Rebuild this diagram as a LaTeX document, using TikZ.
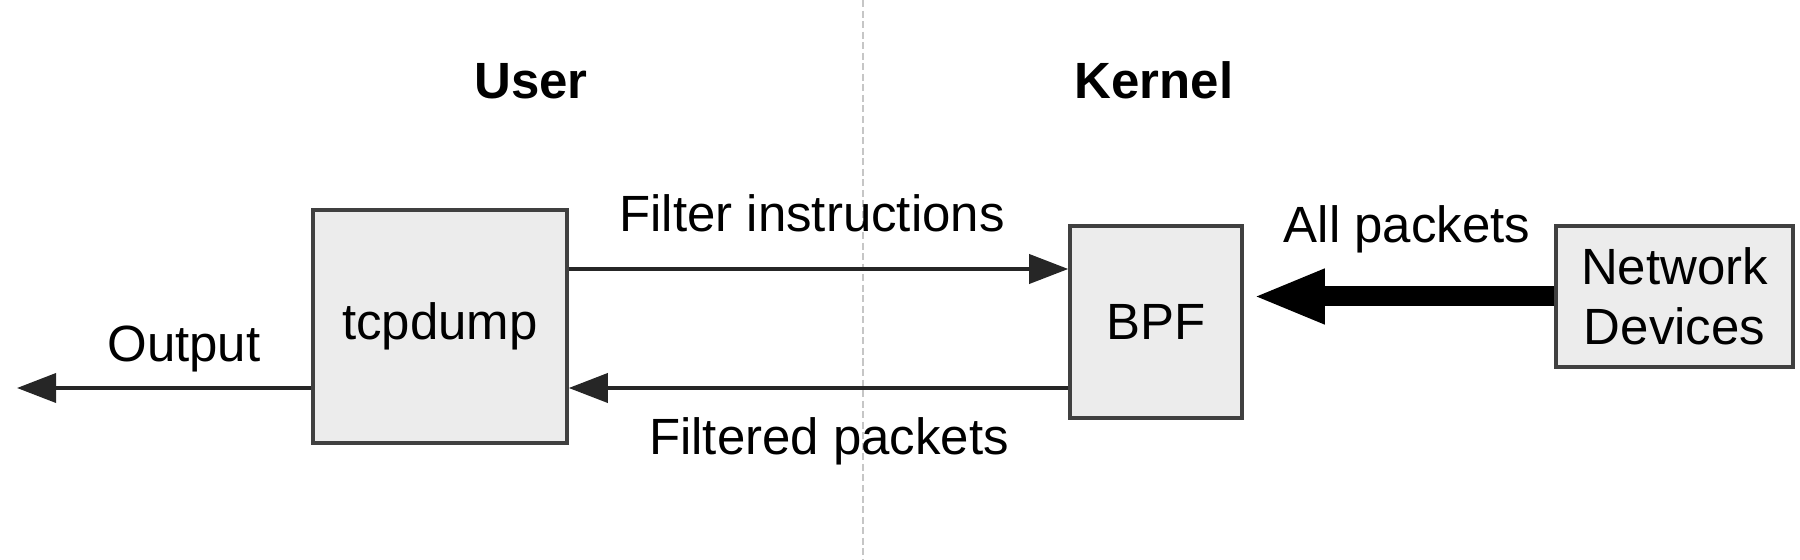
\documentclass[tikz,border=0pt]{standalone}
\usepackage{fontspec}
\setmainfont{Liberation Sans}
\usetikzlibrary{arrows.meta}
\begin{document}
\begin{tikzpicture}[>={Triangle[length=0.39cm,width=0.29cm]},
    box/.style={draw=black!75, fill=gray!15, line width=1pt, inner sep=0pt},
    lbl/.style={anchor=base, font=\fontsize{14.5}{17}\selectfont},
    flow/.style={->, draw=black!85, line width=1.05pt}]
        \useasboundingbox (0,0) rectangle (18,5.6);
        \fontsize{14.5}{17}\selectfont
        % Divider
        \coordinate (divtop) at (8.63,5.6);
        \coordinate (divbot) at (8.63,0);
        \draw[gray!45, line width=0.35pt, dash pattern=on 2pt off 1pt] (divtop) -- (divbot);
        % Nodes
        \node[lbl, font=\fontsize{14.5}{17}\selectfont\bfseries] (user) at (5.31,4.61) {User};
        \node[lbl, font=\fontsize{14.5}{17}\selectfont\bfseries] (kernel) at (11.54,4.61) {Kernel};
        \node[box, minimum width=2.54cm, minimum height=2.33cm] (tcpdump) at (4.40,2.335) {tcpdump};
        \node[box, minimum width=1.72cm, minimum height=1.92cm] (bpf) at (11.56,2.38) {BPF};
        \node[box, minimum width=2.37cm, minimum height=1.41cm, align=center] (netdev) at (16.745,2.635) {Network\\Devices};
        \coordinate (out) at (0.17,1.72);
        % Arrows
        \draw[flow] (tcpdump.east |- 0,2.91) -- (bpf.west |- 0,2.91);
        \draw[flow] (bpf.west |- out) -- (tcpdump.east |- out);
        \draw[flow] (tcpdump.west |- out) -- (out);
        \draw[-{Triangle[length=0.72cm,width=0.5cm]}, line width=0.2cm, shorten >=0.09cm] (netdev.west) -- (bpf.east |- netdev.west);
        % Labels
        \node[lbl] (filterlbl) at (8.12,3.28) {Filter instructions};
        \node[lbl] (filteredlbl) at (8.29,1.05) {Filtered packets};
        \node[lbl] (outlbl) at (1.84,1.98) {Output};
        \node[lbl] (alllbl) at (14.07,3.17) {All packets};
    \end{tikzpicture}
\end{document}
